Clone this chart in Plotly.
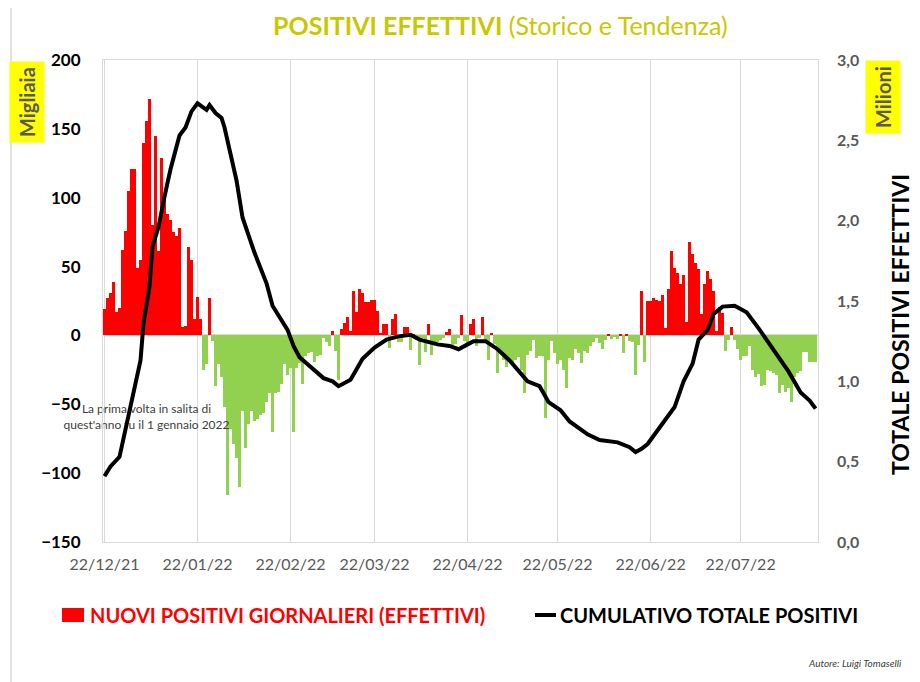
import pandas as pd
import plotly.graph_objects as go

START = pd.Timestamp("2021-12-22")

# nuovi positivi giornalieri (migliaia), un valore al giorno dal 22/12/21 al 16/08/22
daily_new = [
    19, 27, 31, 39, 17, 20, 62, 76, 105, 121,
    121, 49, 55, 140, 156, 172, 80, 145, 61, 129,
    101, 88, 84, 75, 72, 78, 6, 6.5, 64, 55,
    12, 28, 12, -25, -21, 27, -4, -37, -21, -30,
    -52, -116, -68, -79, -89, -110, -55, -82, -64, -55,
    -62, -61, -58, -56, -48, -42, -70, -42, -41, -35,
    -21, -29, -24, -70, -24, -20, -35, -15, -13, -12,
    -19, -15,
    -14, -2, -5, -8, 3, -11, -32, 5, 9, 13.5,
    3.4, 32, 17, 34, 30.5, 24.5, 24, 26, 26, 18,
    1.5, 8, 8, -9, 12, 15.5, -4.6, -4.6, 5.8, 5.8,
    -10.6, 1, -3, -21.5, -2, -12, 8, -14, -4.6, -4.6,
    -3, -2, 2.7, 4.4, -7, -6, -2, 15, -4, -8,
    8, 11.6, -8, -2, 13.5, -4.6, -18, 2, -6, -27,
    -13, -18, -23, -17, -20, -18, -15.5, -25, -42,
    -14, -11.6, -3, -16.5, -15, -15, -60, -17.7, -4.4, -12.8,
    -21, -17.7, -25, -38, -16.5, -17.7, -10, -12.8, -20, -11.6,
    -12.8, -8, -5, -2, -5.6, -10, -3, 1.2, -2.7, -1,
    -2.7, 1, -12.8, 1, -4.4, -5, -29, -7, 32, -19,
    24.7, 24.7, 27, 26, 25, 29.5, 5.3, 34, 61.5, 49,
    45, 37, 44, 10, 68, 59, 52.5, 48, 15.7, 37,
    46.5, 41, 32, 3, 20.6, 16,
    -11, -3, 6, -3, -10, -18, -15, -15, -8, -25,
    -30, -28, -37, -36, -25, -26, -27, -29, -42, -36,
    -41, -38, -48, -30, -27, -26, -12, -12, -19, -19,
    -19,
]

# cumulativo totale positivi (milioni): giorno dal 22/12/21 e valore
line_day = [0, 2, 5, 7, 10, 12, 13, 15, 16, 18,
            20, 22, 25, 27, 29, 31, 34, 35, 37, 39,
            40, 41, 42, 44, 46, 50, 54, 56, 61, 63, 65, 70,
            73, 76, 78, 82, 86, 90, 94, 98, 102, 105,
            111, 115, 118, 121, 123, 127, 131, 135, 139, 141,
            145, 148, 152, 155, 161, 165, 171, 175, 177, 179,
            181, 186, 190, 193, 196, 198, 201, 203, 206, 210,
            214, 218, 224, 228, 232, 235, 237]
line_val = [0.41, 0.47, 0.53, 0.70, 0.97, 1.13, 1.36, 1.59, 1.84, 1.96,
            2.15, 2.32, 2.53, 2.58, 2.68, 2.73, 2.69, 2.72, 2.67, 2.64,
            2.58, 2.50, 2.41, 2.25, 2.02, 1.80, 1.61, 1.47, 1.32, 1.22, 1.15, 1.07,
            1.02, 1.00, 0.97, 1.01, 1.14, 1.21, 1.26, 1.28, 1.29, 1.26,
            1.23, 1.22, 1.20, 1.23, 1.25, 1.25, 1.20, 1.13, 1.04, 1.00,
            0.97, 0.87, 0.82, 0.75, 0.67, 0.635, 0.62, 0.59, 0.56, 0.58,
            0.61, 0.74, 0.84, 1.00, 1.11, 1.26, 1.32, 1.42, 1.465, 1.47,
            1.43, 1.33, 1.17, 1.06, 0.93, 0.88, 0.83]

note_text = "La prima volta in salita di<br>quest'anno fu il 1 gennaio 2022"
note_day = 14.0
note_y = -60

bar_dates = pd.date_range(START, periods=len(daily_new), freq="D")
line_dates = [START + pd.Timedelta(days=d) for d in line_day]
bar_colors = ["#ff0000" if v >= 0 else "#92d050" for v in daily_new]

# plot area in page pixels; the page body adds an 8px margin
OFF = 8
L, R, T, B = 103, 818, 60, 542
W, H = 920 - OFF, 682 - OFF


def px(x):
    return (x - L) / (R - L)


def py(y):
    return (B - y) / (B - T)


FONT = "Lato"

fig = go.Figure()
fig.add_trace(go.Bar(x=bar_dates, y=daily_new, marker_color=bar_colors,
                     marker_line_width=0, showlegend=False, hoverinfo="x+y"))
fig.add_trace(go.Scatter(x=[START + pd.Timedelta(hours=note_day * 24)], y=[note_y],
                         mode="text", text=[note_text], textposition="middle center",
                         textfont=dict(family=FONT, size=12, color="#404040"),
                         cliponaxis=False, showlegend=False, hoverinfo="skip"))
fig.add_trace(go.Scatter(x=line_dates, y=line_val, yaxis="y2", mode="lines",
                         line=dict(color="black", width=4), showlegend=False))

fig.update_layout(
    width=W, height=H,
    margin=dict(l=L - OFF, r=W - (R - OFF), t=T - OFF, b=H - (B - OFF), pad=0, autoexpand=False),
    paper_bgcolor="white", plot_bgcolor="white",
    separators=",.",
    bargap=0,
    font=dict(family=FONT),
    xaxis=dict(type="date",
               range=[START - pd.Timedelta(hours=12), START + pd.Timedelta(days=237, hours=19)],
               tick0="2021-12-22", dtick="M1", tickformat="%d/%m/%y",
               showgrid=True, gridcolor="#d9d9d9", gridwidth=1,
               showline=True, linecolor="#d9d9d9", mirror=True,
               ticks="", ticklabelstandoff=8,
               tickfont=dict(family=FONT, size=16, color="#595959")),
    yaxis=dict(range=[-150, 200], dtick=50, showgrid=False,
               zeroline=True, zerolinecolor="#d9d9d9", zerolinewidth=1.5,
               showline=True, linecolor="#d9d9d9", mirror=True,
               ticks="", ticklabelstandoff=18,
               tickfont=dict(family=FONT, size=17, color="black", weight="bold")),
    yaxis2=dict(range=[0, 3], dtick=0.5, tickformat=".1f", overlaying="y", side="right",
                showgrid=False, zeroline=False, ticks="", ticklabelstandoff=18,
                tickfont=dict(family=FONT, size=16, color="#595959", weight="bold")),
)

annotations = [
    dict(x=px(500), y=py(25), text="<b>POSITIVI EFFETTIVI</b> (Storico e Tendenza)",
         font=dict(family=FONT, size=25, color="#c8c800")),
    dict(x=px(27), y=py(102), text="<b>Migliaia</b>", textangle=-90, bgcolor="#ffff00",
         borderpad=5, font=dict(family=FONT, size=20, color="#595959")),
    dict(x=px(883), y=py(97), text="<b>Milioni</b>", textangle=-90, bgcolor="#ffff00",
         borderpad=5, font=dict(family=FONT, size=20, color="#595959")),
    dict(x=px(900), y=py(325), text="<b>TOTALE POSITIVI EFFETTIVI</b>", textangle=-90,
         font=dict(family=FONT, size=23, color="black")),
    dict(x=px(88), y=py(615), text="<b>NUOVI POSITIVI GIORNALIERI (EFFETTIVI)</b>",
         xanchor="left", font=dict(family=FONT, size=20, color="#ff0000")),
    dict(x=px(558), y=py(615), text="<b>CUMULATIVO TOTALE POSITIVI</b>",
         xanchor="left", font=dict(family=FONT, size=20, color="black")),
    dict(x=px(904), y=py(663), text="<i>Autore: Luigi Tomaselli</i>", xanchor="right",
         font=dict(family=FONT, size=10, color="#404040")),
]
for a in annotations:
    a.update(xref="paper", yref="paper", showarrow=False)
    a.setdefault("xanchor", "center")
    a.setdefault("yanchor", "middle")
fig.update_layout(annotations=annotations)

fig.update_layout(shapes=[
    dict(type="rect", xref="paper", yref="paper", x0=px(11), x1=px(940), y0=py(5), y1=py(700),
         line=dict(color="#d9d9d9", width=1.5), layer="below"),
    dict(type="rect", xref="paper", yref="paper", x0=px(62), x1=px(84), y0=py(608), y1=py(622),
         fillcolor="#ff0000", line=dict(width=0)),
    dict(type="line", xref="paper", yref="paper", x0=px(535), x1=px(556), y0=py(615), y1=py(615),
         line=dict(color="black", width=4)),
])

fig.write_html("out.html")
